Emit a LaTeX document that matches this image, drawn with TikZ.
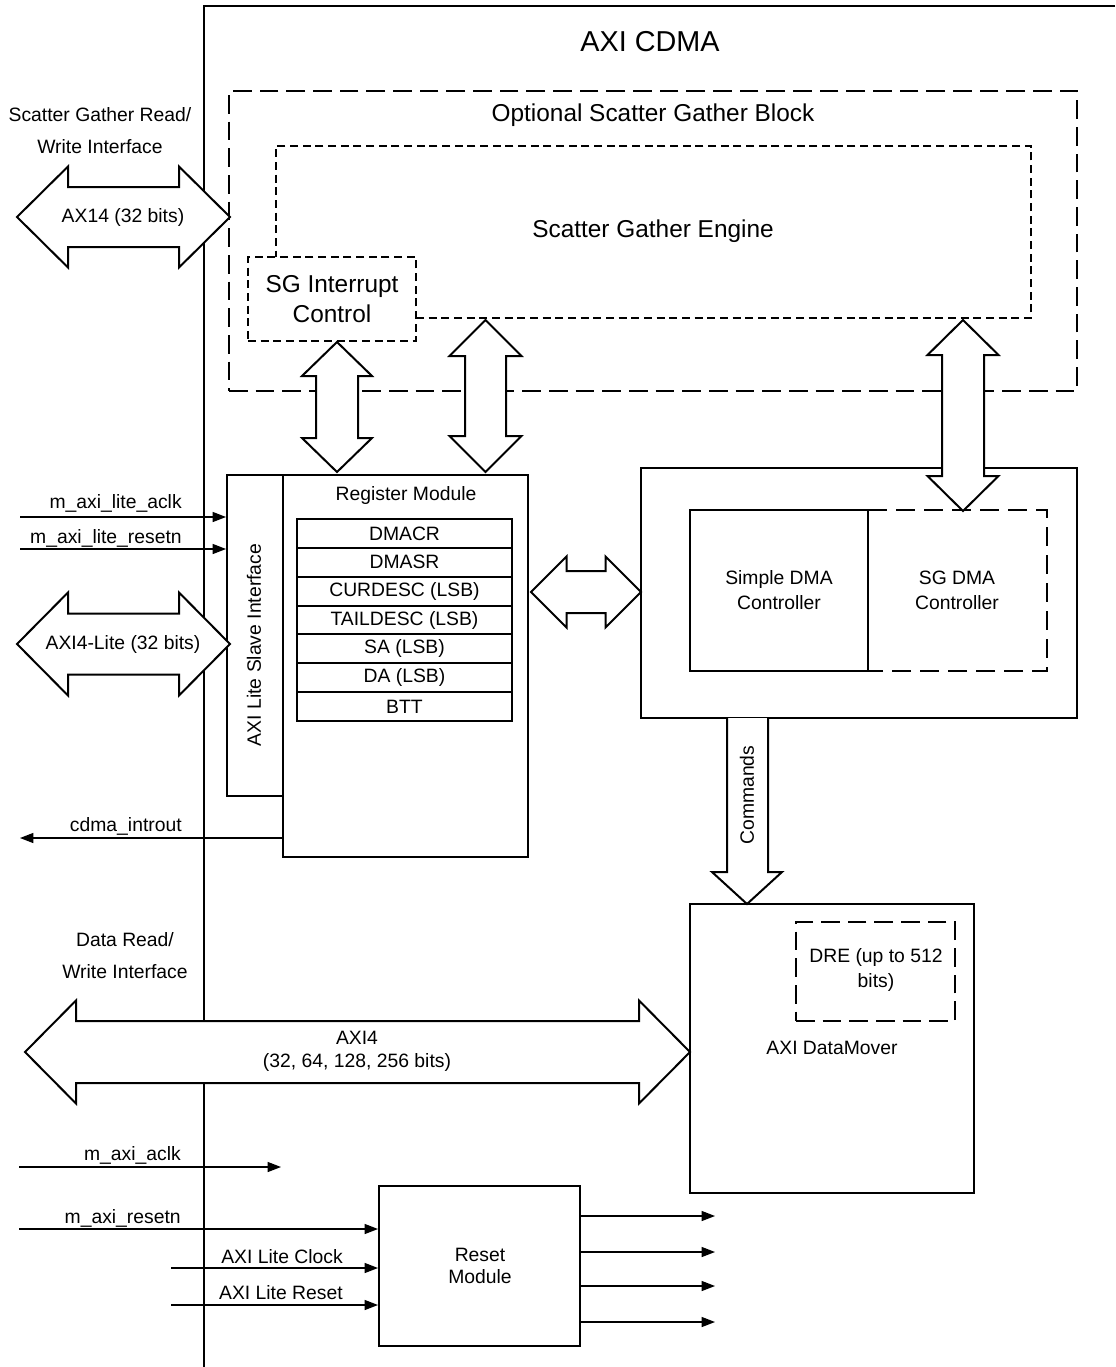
\documentclass[tikz,border=0pt]{standalone}
\usepackage{fontspec}
\setmainfont{Liberation Sans}
\usetikzlibrary{arrows.meta,fit,calc}
\newcommand\hdblarrow[6]{% xl, xr, y, shaft half, head half, head length
  \draw[barrow] (#1,#3) -- ({#1+#6},{#3-#5}) -- ({#1+#6},{#3-#4}) -- ({#2-#6},{#3-#4}) -- ({#2-#6},{#3-#5}) -- (#2,#3)
    -- ({#2-#6},{#3+#5}) -- ({#2-#6},{#3+#4}) -- ({#1+#6},{#3+#4}) -- ({#1+#6},{#3+#5}) -- cycle;}
\newcommand\vdblarrow[6]{% yt, yb, x, shaft half, head half, head length
  \draw[barrow] (#3,#1) -- ({#3+#5},{#1+#6}) -- ({#3+#4},{#1+#6}) -- ({#3+#4},{#2-#6}) -- ({#3+#5},{#2-#6}) -- (#3,#2)
    -- ({#3-#5},{#2-#6}) -- ({#3-#4},{#2-#6}) -- ({#3-#4},{#1+#6}) -- ({#3-#5},{#1+#6}) -- cycle;}
\begin{document}
\begin{tikzpicture}[x=0.75pt,y=-0.75pt,
  box/.style={draw, line width=1.5pt, inner sep=0pt},
  dashlong/.style={draw, line width=1.5pt, dash pattern=on 14pt off 6pt, inner sep=0pt},
  dashshort/.style={draw, line width=1.5pt, dash pattern=on 6pt off 3.5pt, inner sep=0pt},
  barrow/.style={draw, fill=white, line width=1.5pt, line join=miter},
  sig/.style={line width=0.9pt, -{Triangle[length=10pt,width=7.5pt]}},
  txt/.style={font=\fontsize{14.5}{18.75}\selectfont, inner sep=0pt, align=center},
  big/.style={font=\fontsize{18.3}{22.5}\selectfont, inner sep=0pt, align=center},
  regrow/.style={box, txt, minimum width=161.25pt, minimum height=21.64pt},
]
\useasboundingbox (0,0) rectangle (1115,1367);

% main AXI CDMA frame
\draw[line width=1.5pt] (1115,6) -- (204,6) -- (204,1367);
\node[font=\fontsize{21.6}{26}\selectfont, inner sep=0pt] (title) at (650,42) {AXI CDMA};

% optional scatter gather block
\node[dashlong, fit={(229,91) (1077,391)}] (osg) {};
\node[big] (osglbl) at (653,115) {Optional Scatter Gather Block};
% scatter gather engine (outline around the interrupt control box)
\draw[line width=1.5pt, dash pattern=on 6pt off 3.5pt] (416,318) -- (1031,318) -- (1031,146) -- (276,146) -- (276,257);
\node[big] (sge) at (653,231) {Scatter Gather Engine};
\node[dashshort, fit={(248,257) (416,341)}] (sgint) {};
\node[big, align=center, font=\fontsize{18.3}{22.5}\selectfont] at (332,299) {SG Interrupt\\Control};

% left labels
\node[txt, font=\fontsize{14.5}{24}\selectfont] (sgrw) at (100,131) {Scatter Gather Read/\\Write Interface};
\node[txt, font=\fontsize{14.5}{24}\selectfont] (drw) at (125,956) {Data Read/\\Write Interface};

% register module
\node[box, fit={(283,475) (528,857)}] (reg) {};
\node[txt] (reglbl) at (406,495) {Register Module};
\foreach \t [count=\i from 0] in {DMACR, DMASR, CURDESC (LSB), TAILDESC (LSB), SA (LSB), DA (LSB), BTT}{
  \node[regrow] (r\i) at (404.5,{519+(\i+0.5)*28.857}) {\t};
}
% AXI lite slave interface
\node[box, fill=white, fit={(227,475) (283,796)}] (slave) {};
\node[txt, rotate=90] at (254,645) {AXI Lite Slave Interface};

% DMA controller
\node[box, fit={(641,468) (1077,718)}] (ctrl) {};
\node[box, fit={(690,510) (868,671)}] (sdma) {};
\node[txt] at (779,590) {Simple DMA\\Controller};
\draw[line width=1.5pt, dash pattern=on 14pt off 7pt] (868,510) -- (1047,510) -- (1047,671) -- (868,671);
\node[txt] (sgdma) at (957,590) {SG DMA\\Controller};

% datamover
\node[box, fit={(690,904) (974,1193)}] (dm) {};
\node[dashlong, fit={(796,922) (955,1021)}] (dre) {};
\node[txt] at (876,970) {DRE (up to 512\\bits)};
\node[txt] (dmlbl) at (832,1048) {AXI DataMover};

% reset module
\node[box, fit={(379,1186) (580,1346)}] (rst) {};
\node[txt, font=\fontsize{14.5}{16.5}\selectfont] at (480,1266) {Reset\\Module};

% block arrows
\hdblarrow{17}{230}{217}{30}{50.5}{51}
\node[txt] at (123,217) {AX14 (32 bits)};
\hdblarrow{17}{230}{644}{30.5}{51.5}{51}
\node[txt] at (123,644) {AXI4-Lite (32 bits)};
\hdblarrow{25}{690}{1052}{31}{51.5}{51}
\node[txt, font=\fontsize{14.5}{17.25}\selectfont] at (357,1051) {AXI4\\(32, 64, 128, 256 bits)};
\vdblarrow{342}{472}{337}{21}{35}{34}
\vdblarrow{320}{472}{485.5}{20.5}{36}{36}
\vdblarrow{320}{511}{963}{21}{35.5}{35}
\hdblarrow{531}{641}{592}{21}{35.5}{35.5}
% commands arrow
\draw[barrow] (727,718) -- (727,872) -- (712,872) -- (747,904) -- (782,872) -- (768,872) -- (768,718);
\node[txt, rotate=90] at (747,795) {Commands};

% signals
\coordinate (aclkin) at (20,517);
\coordinate (rstnin) at (20,549);
\coordinate (introut) at (20,838);
\coordinate (maclkin) at (19,1167);
\coordinate (maclkout) at (281,1167);
\coordinate (mrstin) at (19,1229);
\coordinate (lclkin) at (171,1268);
\coordinate (lrstin) at (171,1305);
\draw[sig] (aclkin) -- (aclkin -| slave.west);
\draw[sig] (rstnin) -- (rstnin -| slave.west);
\draw[sig] (introut -| reg.west) -- (introut);
\draw[sig] (maclkin) -- (maclkout);
\draw[sig] (mrstin) -- (mrstin -| rst.west);
\draw[sig] (lclkin) -- (lclkin -| rst.west);
\draw[sig] (lrstin) -- (lrstin -| rst.west);
\foreach \yy [count=\k] in {1216,1252,1286,1322}{
  \coordinate (rout\k) at (715,\yy);
  \draw[sig] (rout\k -| rst.east) -- (rout\k);
}
\node[txt, anchor=east] at (182,503) {m\_axi\_lite\_aclk};
\node[txt, anchor=east] at (182,538) {m\_axi\_lite\_resetn};
\node[txt, anchor=east] at (182,826) {cdma\_introut};
\node[txt, anchor=east] at (181,1155) {m\_axi\_aclk};
\node[txt, anchor=east] at (181,1218) {m\_axi\_resetn};
\node[txt, anchor=east] at (343,1257) {AXI Lite Clock};
\node[txt, anchor=east] at (343,1293) {AXI Lite Reset};
\end{tikzpicture}
\end{document}
